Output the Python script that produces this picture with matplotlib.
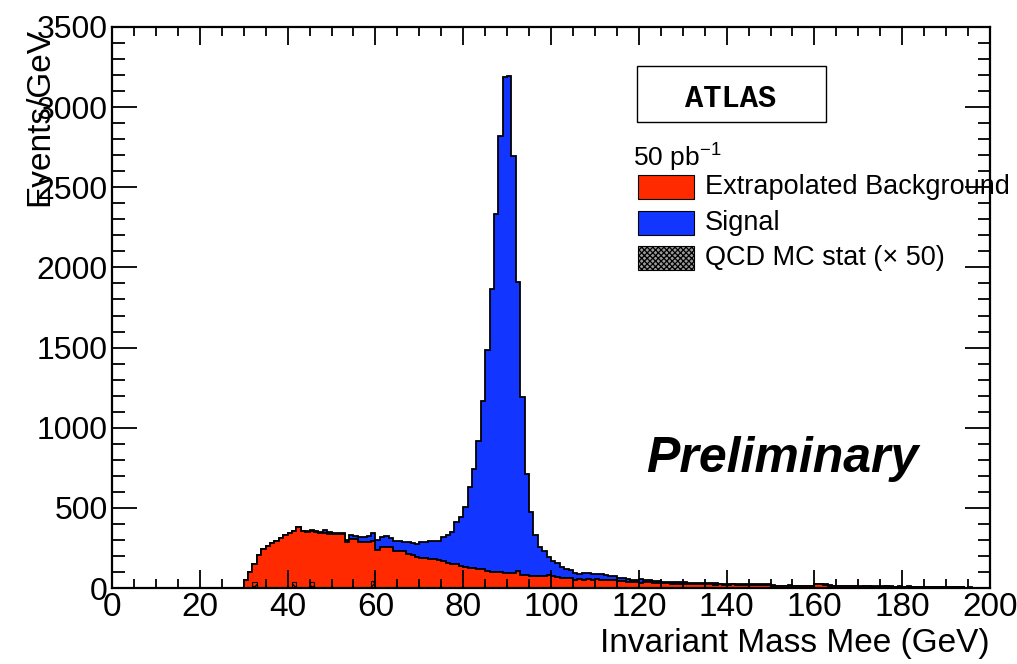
import numpy as np
import matplotlib
matplotlib.use("Agg")
import matplotlib.pyplot as plt
from matplotlib.patches import Rectangle
from matplotlib.ticker import MultipleLocator

plt.rcParams['font.family'] = ['Liberation Sans', 'DejaVu Sans']
plt.rcParams['mathtext.fontset'] = 'custom'
plt.rcParams['mathtext.rm'] = 'Liberation Sans'
plt.rcParams['hatch.linewidth'] = 0.9

# ---------------- data (1 GeV bins, 0-200 GeV) ----------------
mass_edges = np.arange(0, 201, 1)

# extrapolated background, bins 30..199 (bins 0..29 are empty)
bkg_30_199 = [
    50, 98, 148, 206, 241, 262, 279, 295, 310, 331,
    345, 355, 379, 355, 350, 354, 350, 345, 342, 340,
    336, 335, 335, 290, 306, 304, 289, 289, 290, 293,
    237, 256, 258, 255, 231, 232, 228, 210, 205, 192,
    189, 186, 179, 178, 172, 168, 156, 152, 150, 135,
    132, 126, 122, 121, 118, 105, 102, 100, 98, 96,
    92, 93, 108, 82, 80, 76, 74, 72, 75, 78,
    72, 66, 65, 64, 63, 50, 55, 53, 56, 52,
    54, 50, 50, 48, 47, 46, 45, 40, 36, 38,
    34, 35, 37, 33, 32, 30, 29, 28, 28, 26,
    25, 24, 24, 25, 23, 22, 24, 21, 22, 20,
    21, 22, 20, 19, 21, 20, 19, 20, 18, 19,
    14, 12, 12, 11, 13, 10, 12, 11, 10, 12,
    22, 24, 20, 14, 12, 11, 10, 12, 11, 10,
    9, 10, 11, 9, 8, 9, 10, 9, 8, 9,
    8, 9, 8, 7, 8, 7, 6, 7, 6, 5,
    5, 4, 5, 4, 3, 3, 3, 2, 2, 2,
]

# Z -> ee signal, bins 30..199
sig_30_199 = [
    0, 0, 0, 0, 0, 0, 0, 0, 0, 0,
    0, 3, 0, 3, 4, 5, 4, 5, 20, 10,
    10, 8, 6, 10, 24, 20, 32, 30, 32, 48,
    63, 62, 64, 60, 64, 62, 62, 75, 75, 83,
    95, 103, 113, 118, 123, 148, 175, 199, 264, 306,
    372, 502, 619, 798, 1051, 1380, 1762, 2236, 2721, 3095,
    3105, 2601, 1803, 1108, 631, 400, 257, 182, 158, 114,
    98, 88, 68, 54, 49, 46, 32, 39, 40, 38,
    34, 35, 30, 27, 25, 18, 15, 18, 14, 14,
    22, 15, 11, 12, 11, 10, 9, 12, 9, 9,
    12, 10, 9, 9, 8, 9, 7, 8, 6, 7,
    6, 5, 6, 5, 5, 4, 5, 4, 4, 4,
    3, 3, 3, 3, 3, 3, 3, 3, 3, 3,
    2, 2, 2, 2, 2, 2, 2, 2, 2, 2,
    2, 1, 2, 1, 2, 1, 1, 2, 1, 1,
    1, 1, 1, 1, 1, 1, 1, 1, 1, 1,
    1, 1, 1, 1, 0, 1, 0, 1, 0, 0,
]

bkg = np.array([0] * 30 + bkg_30_199, dtype=float)
sig = np.array([0] * 30 + sig_30_199, dtype=float)

# QCD MC statistical error (x 50), only a few bins visible
qcd_bins = np.array([32, 41, 45, 59])
qcd_err = np.array([40, 40, 40, 44])

red = '#ff2a00'
blue = '#1236ff'

# ---------------- figure ----------------
W, H = 1017, 664
fig = plt.figure(figsize=(W / 100, H / 100), dpi=100)
ax = fig.add_axes([112 / W, 1 - 588 / H, 878 / W, 561 / H])


def px(x, y):
    # pixel position -> figure fraction
    return x / W, 1 - y / H


total = bkg + sig
ax.stairs(total, mass_edges, fill=True, color=blue, lw=0)
ax.stairs(total, mass_edges, color='k', lw=1.3, baseline=0)
ax.stairs(bkg, mass_edges, fill=True, color=red, lw=0)
ax.stairs(bkg, mass_edges, color='k', lw=1.3, baseline=0)

ax.bar(qcd_bins + 0.5, qcd_err, width=1, facecolor='none', edgecolor='k',
       hatch='xxxx', lw=0.8)

ax.set_xlim(0, 200)
ax.set_ylim(0, 3500)
ax.xaxis.set_major_locator(MultipleLocator(20))
ax.xaxis.set_minor_locator(MultipleLocator(5))
ax.yaxis.set_major_locator(MultipleLocator(500))
ax.yaxis.set_minor_locator(MultipleLocator(100))
ax.tick_params(which='both', direction='in', top=True, right=True, width=1.3)
ax.tick_params(axis='x', which='major', length=13, labelsize=24, pad=3)
ax.tick_params(axis='x', which='minor', length=6.5)
ax.tick_params(axis='y', which='major', length=18, labelsize=23, pad=3)
ax.tick_params(axis='y', which='minor', length=9)
for s in ax.spines.values():
    s.set_linewidth(1.6)

# axis titles (ROOT style, aligned at the axis ends)
fig.text(*px(990, 628), 'Invariant Mass Mee (GeV)', ha='right', va='top', fontsize=24)
fig.text(*px(40, 28), 'Events/GeV', rotation=90, ha='center', va='top', fontsize=24)

# ATLAS box
x0, y0 = px(637, 122)
x1, y1 = px(826, 66)
fig.add_artist(Rectangle((x0, y0), x1 - x0, y1 - y0, transform=fig.transFigure,
                         facecolor='white', edgecolor='k', lw=1))
fig.text(*px(731, 99), 'ATLAS', ha='center', va='center', fontsize=22,
         family='Liberation Mono', weight='bold')

fig.text(*px(633, 166), '50 pb$^{-1}$', ha='left', va='baseline', fontsize=19)

# legend entries
legend_items = [('Extrapolated Background', red, None),
                ('Signal', blue, None),
                ('QCD MC stat (\u00d7 50)', '#9a9a9a', 'xxxxxx')]
for i, (label, col, hatch) in enumerate(legend_items):
    yc = 187 + 35.5 * i
    bx, by = px(638, yc + 12)
    bw = 56 / W
    bh = 24 / H
    fig.add_artist(Rectangle((bx, by), bw, bh, transform=fig.transFigure,
                             facecolor=col, edgecolor='k', lw=0.8, hatch=hatch))
    fig.text(*px(705, yc), label, ha='left', va='center', fontsize=19.5)

fig.text(*px(782, 459), 'Preliminary', ha='center', va='center', fontsize=36,
         weight='bold', style='italic')

fig.savefig('out.png', dpi=100)
